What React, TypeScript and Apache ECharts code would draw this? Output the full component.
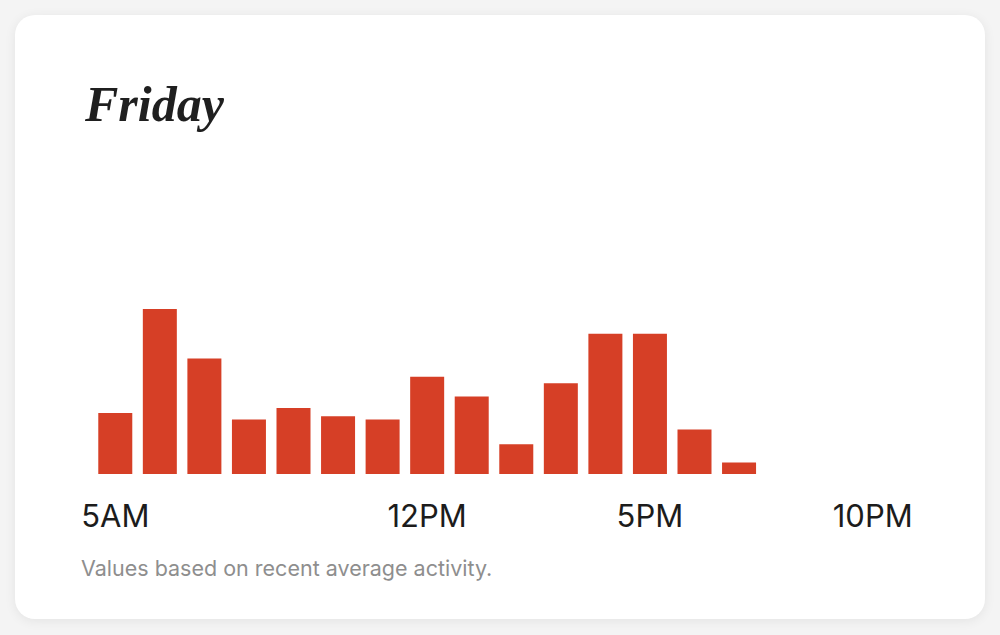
import React, { useEffect, useRef } from "react";
import * as echarts from "echarts";

const hours = [
  "5AM", "6AM", "7AM", "8AM", "9AM", "10AM", "11AM", "12PM", "1PM",
  "2PM", "3PM", "4PM", "5PM", "6PM", "7PM", "8PM", "9PM", "10PM",
];
const activity = [37, 100, 70, 33, 40, 35, 33, 59, 47, 18, 55, 85, 85, 27, 7, 0, 0, 0];
const shownLabels = ["5AM", "12PM", "5PM", "10PM"];
const titleText = "Friday";
const noteText = "Values based on recent average activity.";

export default function App() {
  const ref = useRef<HTMLDivElement>(null);
  useEffect(() => {
    if (!ref.current) return;
    const chart = echarts.init(ref.current, undefined, { renderer: "svg" });
    chart.setOption({
      animation: false,
      grid: { left: 93, right: 105, top: 309, bottom: 161 },
      xAxis: {
        type: "category",
        data: hours,
        axisLine: { show: false },
        axisTick: { show: false },
        axisLabel: {
          interval: (_i: number, v: string) => shownLabels.includes(v),
          margin: 26,
          fontFamily: "Inter",
          fontSize: 31,
          color: "#1c1c1c",
        },
      },
      yAxis: {
        type: "value",
        min: 0,
        max: 100,
        show: false,
        splitLine: { show: false },
      },
      series: [
        {
          type: "bar",
          data: activity,
          barWidth: 34,
          itemStyle: { color: "#d63f26" },
        },
      ],
      graphic: [
        {
          type: "text",
          left: 85,
          top: 79,
          style: {
            text: titleText,
            fontFamily: "Liberation Serif",
            fontStyle: "italic",
            fontWeight: "bold",
            fontSize: 50,
            fill: "#1f1f1f",
          },
        },
        {
          type: "text",
          left: 81,
          top: 557,
          style: {
            text: noteText,
            fontFamily: "Inter",
            fontSize: 21.5,
            fill: "#8e8e8e",
          },
        },
      ],
    });
    return () => chart.dispose();
  }, []);
  return (
    <div
      style={{
        position: "fixed",
        left: 0,
        top: 0,
        width: 1000,
        height: 635,
        background: "#f4f4f4",
        overflow: "hidden",
      }}
    >
      <div
        style={{
          position: "absolute",
          left: 15,
          top: 15,
          width: 970,
          height: 604,
          borderRadius: 20,
          background: "#ffffff",
          boxShadow: "0 2px 12px rgba(0,0,0,0.07)",
        }}
      />
      <div ref={ref} style={{ position: "absolute", left: 0, top: 0, width: 1000, height: 635 }} />
    </div>
  );
}
